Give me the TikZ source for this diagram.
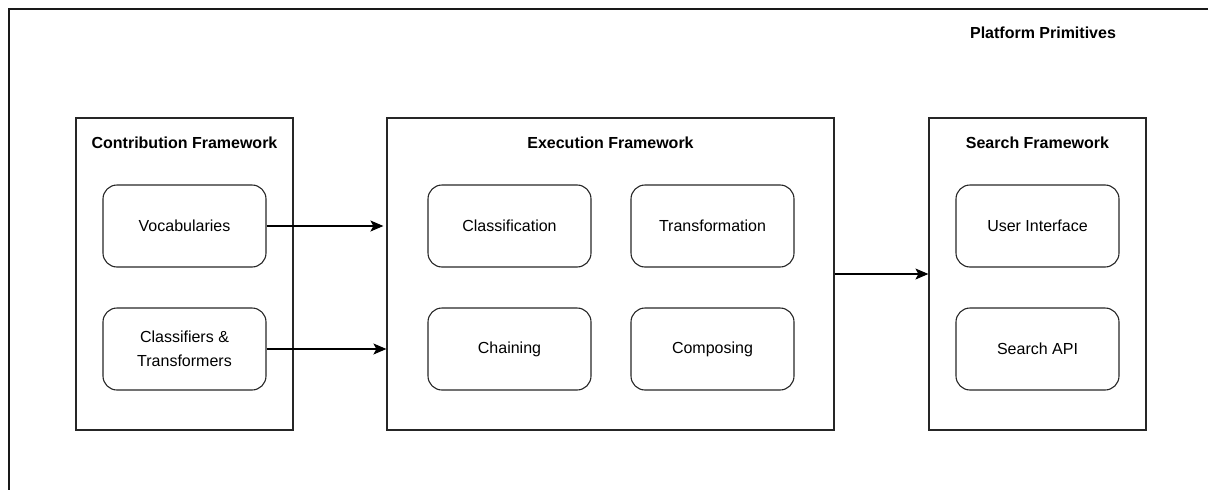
\documentclass[tikz,border=0pt]{standalone}
\usepackage{fontspec}
\setmainfont{Liberation Sans}
\usetikzlibrary{arrows.meta}
\usetikzlibrary{positioning}

\begin{document}
\begin{tikzpicture}[x=1pt,y=-1pt,
  frame/.style={draw=black!85,line width=1.2pt,rectangle,inner sep=0pt,minimum height=312pt},
  item/.style={draw=black!85,line width=1.1pt,rounded corners=14pt,minimum width=163pt,minimum height=82pt,align=center,font=\fontsize{16}{24}\selectfont},
  head/.style={font=\fontsize{16}{19}\selectfont\bfseries},
  link/.style={draw=black,line width=1.1pt,-{Stealth[length=13pt,width=11pt,inset=3pt]}}]
\useasboundingbox (0,0) rectangle (1208,490);
\draw[draw=black!90,line width=1.4pt] (9,9) rectangle (1230,510);
\node[head] (platform) at (1043,33) {Platform Primitives};

% the three frameworks
\node[frame,minimum width=217pt] (contrib) at (184.5,274) {};
\node[frame,minimum width=447pt] (exec) at (610.5,274) {};
\node[frame,minimum width=217pt] (search) at (1037.5,274) {};
\node[head] (contribhead) at ([yshift=-25pt]contrib.north) {Contribution Framework};
\node[head] (exechead) at ([yshift=-25pt]exec.north) {Execution Framework};
\node[head] (searchhead) at ([yshift=-25pt]search.north) {Search Framework};

% inner boxes
\node[item] (vocab) at (184.5,226) {Vocabularies};
\node[item] (classif) at (184.5,349) {Classifiers \&\\Transformers};
\node[item] (classify) at (509.5,226) {Classification};
\node[item] (transform) at (712.5,226) {Transformation};
\node[item] (chain) at (509.5,349) {Chaining};
\node[item] (compose) at (712.5,349) {Composing};
\node[item] (ui) at (1037.5,226) {User Interface};
\node[item] (api) at (1037.5,349) {Search API};

\draw[link] (vocab.east) -- ([xshift=-3pt]vocab.east -| exec.west);
\draw[link] (classif.east) -- (classif.east -| exec.west);
\draw[link] (exec.east) -- (search.west);

\end{tikzpicture}
\end{document}
